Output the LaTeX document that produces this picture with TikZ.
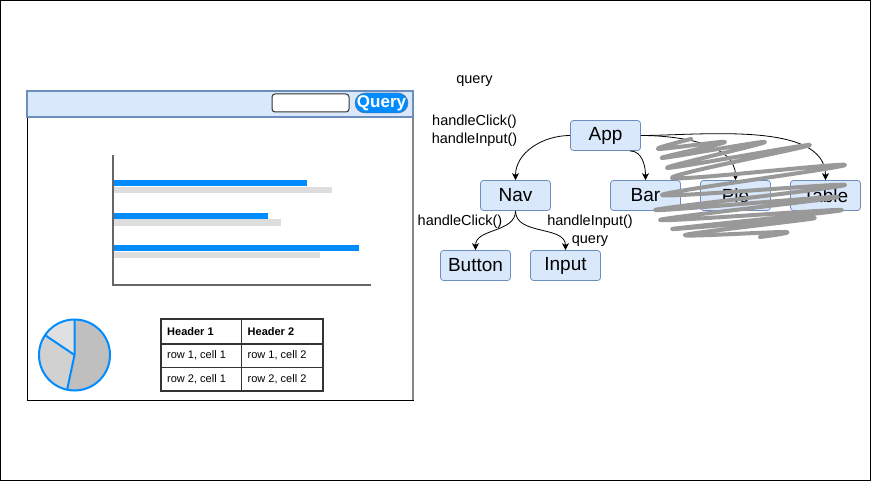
\documentclass[tikz,border=0pt]{standalone}
\usepackage{fontspec}
\setmainfont{Liberation Sans}
\usetikzlibrary{positioning,arrows.meta,calc}
\definecolor{mockblue}{HTML}{008CFF}
\definecolor{compfill}{HTML}{DAE8FC}
\definecolor{compline}{HTML}{6C8EBF}
\definecolor{axisgray}{HTML}{666666}
\definecolor{bargray}{HTML}{DDDDDD}
\definecolor{scribblegray}{HTML}{999999}
\tikzset{
  compbox/.style={draw=compline, fill=compfill, rounded corners=3pt, line width=0.8pt,
    minimum width=70pt, minimum height=30pt, inner sep=0pt, font=\fontsize{19}{21}\selectfont},
  proparrow/.style={-{Stealth[length=7pt,width=7pt,inset=2pt]}, line width=0.8pt},
  proplabel/.style={inner sep=0pt, font=\fontsize{14.5}{16}\selectfont},
  celltext/.style={anchor=west, inner sep=0pt, font=\fontsize{11}{13}\selectfont},
  tableline/.style={draw=black!80, line width=1.8pt},
  slicefill/.style={draw=mockblue, line width=2pt},
  scribbleline/.style={draw=scribblegray, line width=4pt, line cap=round, line join=round},
}

\begin{document}
\begin{tikzpicture}[x=1pt, y=-1pt]
  \useasboundingbox (0,0) rectangle (871,481);
  \draw[line width=1pt] (0.5,0.5) rectangle (870.5,480.5);

  % mockup window
  \draw[line width=1pt, fill=white] (27,91) rectangle (413,400);
  \draw[axisgray!80, line width=1.5pt] (413,117) -- (413,400);
  \draw[draw=compline, fill=compfill, line width=1.2pt] (27,91) rectangle (413,117);
  \draw[draw=black!80, fill=white, rounded corners=3pt, line width=1pt] (272,94) rectangle (349,112);
  \node[draw=axisgray, fill=mockblue, rounded corners=10pt, minimum width=53pt, minimum height=20pt,
    inner sep=0pt, text=white, font=\fontsize{17}{19}\selectfont\bfseries] (querybtn) at (381.5,103) {Query};

  % bar chart
  \fill[mockblue] (113,180.5) rectangle (306.5,186.5);
  \fill[bargray] (113,187) rectangle (332,193);
  \fill[mockblue] (113,213) rectangle (268,219);
  \fill[bargray] (113,219) rectangle (281,226);
  \fill[mockblue] (113,245.5) rectangle (358.5,251.5);
  \fill[bargray] (113,252) rectangle (320,258);
  \draw[axisgray, line width=1.5pt] (113,155) -- (113,285) -- (371,285);

  % pie chart
  \coordinate (pc) at (74.5,355);
  \fill[black!25] (pc) -- ++(102:35.5) arc[start angle=102, end angle=-90, radius=35.5] -- cycle;
  \fill[black!18] (pc) -- ++(214:35.5) arc[start angle=214, end angle=102, radius=35.5] -- cycle;
  \fill[black!12] (pc) -- ++(270:35.5) arc[start angle=270, end angle=214, radius=35.5] -- cycle;
  \draw[slicefill] (pc) circle[radius=35.5];
  \draw[slicefill] ($(pc)+(270:35.5)$) -- (pc) -- ($(pc)+(102:35.5)$);
  \draw[slicefill] (pc) -- ($(pc)+(214:35.5)$);

  % table
  \draw[tableline] (161,319) rectangle (323,391);
  \draw[tableline] (241.5,319) -- (241.5,391);
  \draw[tableline] (161,344) -- (323,344);
  \draw[tableline] (161,367.5) -- (323,367.5);
  \node[celltext, font=\fontsize{11}{13}\selectfont\bfseries] (h1) at (167,331.5) {Header 1};
  \node[celltext, font=\fontsize{11}{13}\selectfont\bfseries] (h2) at (247.5,331.5) {Header 2};
  \node[celltext] (c11) at (167,355.5) {row 1, cell 1};
  \node[celltext] (c12) at (247.5,355.5) {row 1, cell 2};
  \node[celltext] (c21) at (167,379.5) {row 2, cell 1};
  \node[celltext] (c22) at (247.5,379.5) {row 2, cell 2};

  % component tree
  \node[compbox] (app) at (605.5,135.5) {App};
  \node[compbox] (nav) at (515.5,195.5) {Nav};
  \node[compbox] (bar) at (645.5,195.5) {Bar};
  \node[compbox] (pie) at (735.5,195.5) {Pie};
  \node[compbox] (tbl) at (825.5,195.5) {Table};
  \node[compbox] (button) at (475.5,265.5) {Button};
  \node[compbox] (input) at (565.5,265.5) {Input};

  \draw[proparrow] (app.west) to[out=180, in=90] (nav.north);
  \draw[proparrow] ([xshift=-11pt]app.south east) to[out=0, in=90] (bar.north);
  \draw[proparrow] (app.east) to[out=0, in=90, looseness=0.9] (pie.north);
  \draw[proparrow] (app.east) to[out=0, in=90, looseness=0.8] (tbl.north);
  \draw[proparrow] (nav.south) to[out=-90, in=90] (button.north);
  \draw[proparrow] (nav.south) to[out=-90, in=90] (input.north);

  % props
  \node[proplabel] (lquery) at (474.5,81.5) {query};
  \node[proplabel] (lclick) at (474.5,122) {handleClick()};
  \node[proplabel] (linput) at (474.5,140) {handleInput()};
  \node[proplabel] (nclick) at (460,221.5) {handleClick()};
  \node[proplabel] (ninput) at (590,221.5) {handleInput()};
  \node[proplabel] (nquery) at (590,241.5) {query};

  % scribble
  \draw[scribbleline] plot[smooth, tension=0.6] coordinates {
    (691,139) (658,149) (725,142) (662,158) (765,142) (667,168)
    (810,145) (672,178) (845,165) (662,195) (845,185) (655,210)
    (838,197) (660,220) (842,210) (672,229) (815,218) (685,235)
    (785,232) (760,237)};
\end{tikzpicture}
\end{document}
